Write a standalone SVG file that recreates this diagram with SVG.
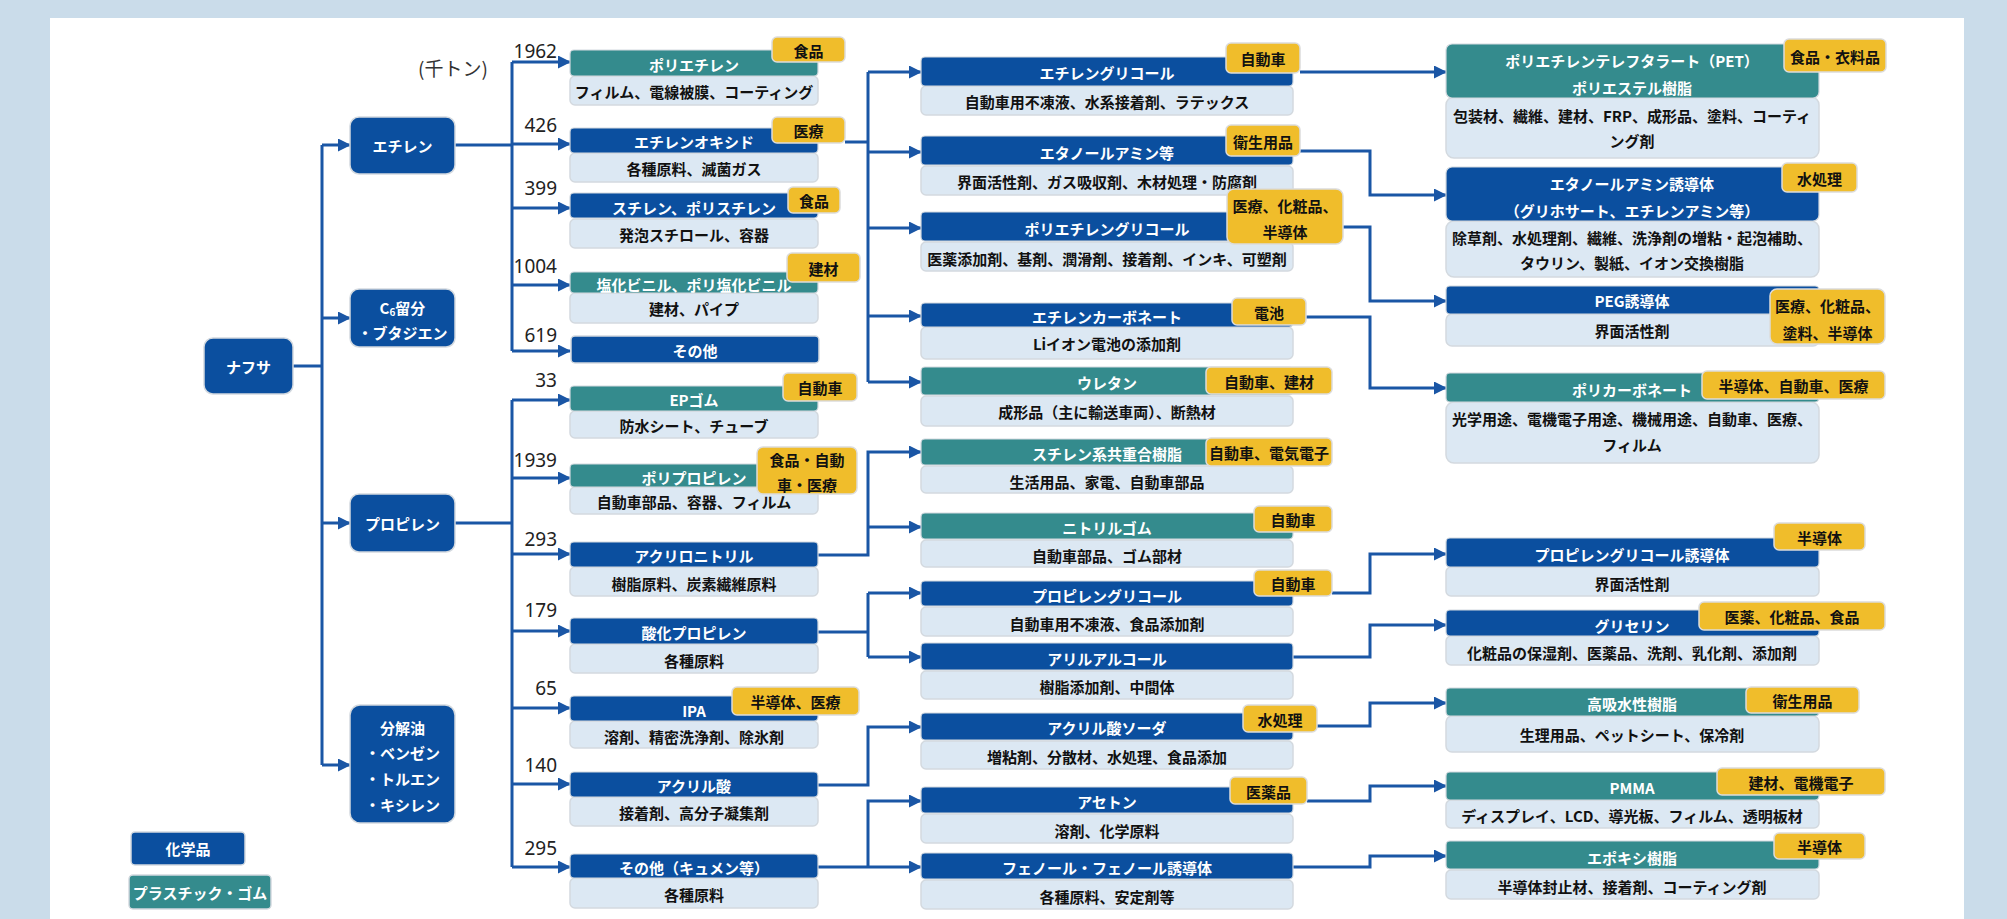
<svg xmlns="http://www.w3.org/2000/svg" width="2007" height="919" viewBox="0 0 2007 919">
<defs>
<style>
text{font-family:"Noto Sans CJK JP","Noto Sans",sans-serif;font-weight:700;font-size:15px;text-anchor:middle;dominant-baseline:central}
.w{fill:#ffffff}
.k{fill:#111111}
.num{font-family:"Noto Sans","Liberation Sans",sans-serif;font-weight:400;font-size:19px;fill:#222222;text-anchor:end;dominant-baseline:auto}
.unit{font-weight:400;font-size:19px;fill:#333333;text-anchor:start;dominant-baseline:auto}
.nb{fill:#0b4f9f;stroke:#d3d9df;stroke-width:1.5}
.hb{fill:#0b4f9f;stroke:#d3d9df;stroke-width:1.2}
.ht{fill:#348b8d;stroke:#d3d9df;stroke-width:1.2}
.bd{fill:#dce8f3;stroke:#d3d9df;stroke-width:1.5}
.tag{fill:#f0bd2b;stroke:#dcdcdc;stroke-width:1.5}
.c{fill:none;stroke:#1a56a5;stroke-width:3}
.a{marker-end:url(#ah)}
</style>
<marker id="ah" markerUnits="userSpaceOnUse" markerWidth="13" markerHeight="13" refX="12" refY="6.5" orient="auto">
<path d="M0,0 L13,6.5 L0,13 z" fill="#1a56a5"/>
</marker>
</defs>
<rect x="0" y="0" width="2007" height="919" fill="#cadcea"/>
<rect x="50" y="18" width="1914" height="901" fill="#ffffff"/>
<text class="unit" x="418" y="76">(千トン)</text>

<g id="connectors">
<path class="c" d="M293,366 H322 M322,145 V765"/>
<path class="c a" d="M322,145 H350"/>
<path class="c a" d="M322,318 H350"/>
<path class="c a" d="M322,523 H350"/>
<path class="c a" d="M322,765 H350"/>
<path class="c" d="M455,145 H512 M512,62 V351"/>
<path class="c a" d="M512,62 H570"/>
<path class="c a" d="M512,144 H570"/>
<path class="c a" d="M512,208 H570"/>
<path class="c a" d="M512,285 H570"/>
<path class="c a" d="M512,351 H570"/>
<path class="c" d="M455,523 H512 M512,400 V867"/>
<path class="c a" d="M512,400 H570"/>
<path class="c a" d="M512,478 H570"/>
<path class="c a" d="M512,554 H570"/>
<path class="c a" d="M512,631 H570"/>
<path class="c a" d="M512,708 H570"/>
<path class="c a" d="M512,784 H570"/>
<path class="c a" d="M512,867 H570"/>
<path class="c" d="M845,142 H868 M868,72 V382"/>
<path class="c a" d="M868,72 H921"/>
<path class="c a" d="M868,152 H921"/>
<path class="c a" d="M868,228 H921"/>
<path class="c a" d="M868,316 H921"/>
<path class="c a" d="M868,382 H921"/>
<path class="c a" d="M818,555 H868 V452 H921"/>
<path class="c a" d="M868,527 H921"/>
<path class="c" d="M818,632 H868 M868,593 V657"/>
<path class="c a" d="M868,593 H921"/>
<path class="c a" d="M868,657 H921"/>
<path class="c a" d="M818,785 H868 V727 H921"/>
<path class="c a" d="M818,867 H921"/>
<path class="c a" d="M868,867 V801 H921"/>
<path class="c a" d="M1300,72 H1446"/>
<path class="c a" d="M1300,151 H1370 V195 H1446"/>
<path class="c a" d="M1343,227 H1370 V301 H1446"/>
<path class="c a" d="M1306,317 H1370 V388 H1446"/>
<path class="c a" d="M1332,593 H1370 V554 H1446"/>
<path class="c a" d="M1293,657 H1370 V625 H1446"/>
<path class="c a" d="M1317,726 H1370 V703 H1446"/>
<path class="c a" d="M1307,801 H1370 V786 H1446"/>
<path class="c a" d="M1293,867 H1370 V856 H1446"/>
</g>

<g id="numbers">
<text class="num" x="557" y="58">1962</text>
<text class="num" x="557" y="132">426</text>
<text class="num" x="557" y="195">399</text>
<text class="num" x="557" y="273">1004</text>
<text class="num" x="557" y="342">619</text>
<text class="num" x="557" y="387">33</text>
<text class="num" x="557" y="467">1939</text>
<text class="num" x="557" y="546">293</text>
<text class="num" x="557" y="617">179</text>
<text class="num" x="557" y="695">65</text>
<text class="num" x="557" y="772">140</text>
<text class="num" x="557" y="855">295</text>
</g>

<g id="n-naphtha"><rect class="nb" x="204" y="338" width="89" height="56" rx="9"/><text class="w" x="248.5" y="366">ナフサ</text></g>
<g id="n-ethylene"><rect class="nb" x="350" y="117" width="105" height="57" rx="9"/><text class="w" x="402.5" y="145">エチレン</text></g>
<g id="n-c6"><rect class="nb" x="350" y="289" width="105" height="58" rx="9"/><text class="w" x="402.5" y="307">C<tspan font-size="10" dy="4">6</tspan><tspan dy="-4">留分</tspan></text><text class="w" x="402.5" y="332">・ブタジエン</text></g>
<g id="n-propylene"><rect class="nb" x="350" y="494" width="105" height="58" rx="9"/><text class="w" x="402.5" y="523">プロピレン</text></g>
<g id="n-cracked"><rect class="nb" x="350" y="705" width="105" height="118" rx="10"/><text class="w" x="402.5" y="727">分解油</text><text class="w" x="402.5" y="752">・ベンゼン</text><text class="w" x="402.5" y="778">・トルエン</text><text class="w" x="402.5" y="804">・キシレン</text></g>

<g id="n-pe"><rect class="bd" x="570" y="76" width="248" height="29" rx="5"/><rect class="ht" x="570" y="50" width="248" height="26" rx="4"/><text class="w" x="694" y="64">ポリエチレン</text><text class="k" x="694" y="91">フィルム、電線被膜、コーティング</text><rect class="tag" x="772" y="37" width="73" height="25" rx="5"/><text class="k" x="808.5" y="50">食品</text></g>
<g id="n-eo"><rect class="bd" x="570" y="153" width="248" height="29" rx="5"/><rect class="hb" x="570" y="128" width="248" height="25" rx="4"/><text class="w" x="694" y="141">エチレンオキシド</text><text class="k" x="694" y="168">各種原料、滅菌ガス</text><rect class="tag" x="772" y="117" width="73" height="26" rx="5"/><text class="k" x="808.5" y="130">医療</text></g>
<g id="n-ps"><rect class="bd" x="570" y="219" width="248" height="29" rx="5"/><rect class="hb" x="570" y="193" width="248" height="25" rx="4"/><text class="w" x="694" y="207">スチレン、ポリスチレン</text><text class="k" x="694" y="234">発泡スチロール、容器</text><rect class="tag" x="788" y="187" width="52" height="26" rx="5"/><text class="k" x="814" y="200">食品</text></g>
<g id="n-pvc"><rect class="bd" x="570" y="293" width="248" height="30" rx="5"/><rect class="ht" x="570" y="272" width="248" height="21" rx="4"/><text class="w" x="694" y="284">塩化ビニル、ポリ塩化ビニル</text><text class="k" x="694" y="308">建材、パイプ</text><rect class="tag" x="787" y="253" width="73" height="29" rx="5"/><text class="k" x="823.5" y="268">建材</text></g>
<g id="n-other1"><rect class="nb" x="571" y="336" width="248" height="27" rx="4"/><text class="w" x="695" y="350">その他</text></g>
<g id="n-ep"><rect class="bd" x="570" y="411" width="248" height="27" rx="5"/><rect class="ht" x="570" y="386" width="248" height="25" rx="4"/><text class="w" x="694" y="399">EPゴム</text><text class="k" x="694" y="425">防水シート、チューブ</text><rect class="tag" x="783" y="373" width="74" height="28" rx="5"/><text class="k" x="820" y="387">自動車</text></g>
<g id="n-pp"><rect class="bd" x="570" y="487" width="248" height="27" rx="5"/><rect class="ht" x="570" y="464" width="248" height="23" rx="4"/><text class="w" x="694" y="477">ポリプロピレン</text><text class="k" x="694" y="501">自動車部品、容器、フィルム</text><rect class="tag" x="757" y="447" width="100" height="47" rx="6"/><text class="k" x="807" y="459">食品・自動</text><text class="k" x="807" y="484">車・医療</text></g>
<g id="n-an"><rect class="bd" x="570" y="567" width="248" height="29" rx="5"/><rect class="hb" x="570" y="542" width="248" height="25" rx="4"/><text class="w" x="694" y="555">アクリロニトリル</text><text class="k" x="694" y="583">樹脂原料、炭素繊維原料</text></g>
<g id="n-po"><rect class="bd" x="570" y="644" width="248" height="29" rx="5"/><rect class="hb" x="570" y="618" width="248" height="26" rx="4"/><text class="w" x="694" y="632">酸化プロピレン</text><text class="k" x="694" y="660">各種原料</text></g>
<g id="n-ipa"><rect class="bd" x="570" y="721" width="248" height="27" rx="5"/><rect class="hb" x="570" y="696" width="248" height="25" rx="4"/><text class="w" x="694" y="710">IPA</text><text class="k" x="694" y="736">溶剤、精密洗浄剤、除氷剤</text><rect class="tag" x="732" y="687" width="127" height="28" rx="5"/><text class="k" x="795.5" y="701">半導体、医療</text></g>
<g id="n-aa"><rect class="bd" x="570" y="797" width="248" height="29" rx="5"/><rect class="hb" x="570" y="772" width="248" height="25" rx="4"/><text class="w" x="694" y="785">アクリル酸</text><text class="k" x="694" y="812">接着剤、高分子凝集剤</text></g>
<g id="n-other2"><rect class="bd" x="570" y="878" width="248" height="30" rx="5"/><rect class="hb" x="570" y="854" width="248" height="24" rx="4"/><text class="w" x="694" y="867">その他（キュメン等）</text><text class="k" x="694" y="894">各種原料</text></g>

<g id="n-eg"><rect class="bd" x="921" y="86" width="372" height="29" rx="5"/><rect class="hb" x="921" y="57" width="372" height="29" rx="4"/><text class="w" x="1107" y="72">エチレングリコール</text><text class="k" x="1107" y="101">自動車用不凍液、水系接着剤、ラテックス</text><rect class="tag" x="1226" y="43" width="74" height="30" rx="5"/><text class="k" x="1263" y="58">自動車</text></g>
<g id="n-eta"><rect class="bd" x="921" y="166" width="372" height="29" rx="5"/><rect class="hb" x="921" y="136" width="372" height="29" rx="4"/><text class="w" x="1107" y="152">エタノールアミン等</text><text class="k" x="1107" y="181">界面活性剤、ガス吸収剤、木材処理・防腐剤</text><rect class="tag" x="1226" y="125" width="74" height="31" rx="5"/><text class="k" x="1263" y="141">衛生用品</text></g>
<g id="n-peg"><rect class="bd" x="921" y="242" width="372" height="29" rx="5"/><rect class="hb" x="921" y="212" width="372" height="29" rx="4"/><text class="w" x="1107" y="228">ポリエチレングリコール</text><text class="k" x="1107" y="258">医薬添加剤、基剤、潤滑剤、接着剤、インキ、可塑剤</text><rect class="tag" x="1227" y="189" width="116" height="55" rx="7"/><text class="k" x="1285" y="205">医療、化粧品、</text><text class="k" x="1285" y="231">半導体</text></g>
<g id="n-ec"><rect class="bd" x="921" y="327" width="372" height="32" rx="5"/><rect class="hb" x="921" y="303" width="372" height="24" rx="4"/><text class="w" x="1107" y="316">エチレンカーボネート</text><text class="k" x="1107" y="343">Liイオン電池の添加剤</text><rect class="tag" x="1232" y="298" width="74" height="27" rx="5"/><text class="k" x="1269" y="312">電池</text></g>
<g id="n-ur"><rect class="bd" x="921" y="396" width="372" height="30" rx="5"/><rect class="ht" x="921" y="367" width="372" height="28" rx="4"/><text class="w" x="1107" y="382">ウレタン</text><text class="k" x="1107" y="411">成形品（主に輸送車両）、断熱材</text><rect class="tag" x="1206" y="367" width="126" height="27" rx="5"/><text class="k" x="1269" y="381">自動車、建材</text></g>
<g id="n-sc"><rect class="bd" x="921" y="466" width="372" height="27" rx="5"/><rect class="ht" x="921" y="439" width="372" height="26" rx="4"/><text class="w" x="1107" y="453">スチレン系共重合樹脂</text><text class="k" x="1107" y="481">生活用品、家電、自動車部品</text><rect class="tag" x="1206" y="438" width="126" height="28" rx="5"/><text class="k" x="1269" y="452">自動車、電気電子</text></g>
<g id="n-nbr"><rect class="bd" x="921" y="540" width="372" height="27" rx="5"/><rect class="ht" x="921" y="513" width="372" height="26" rx="4"/><text class="w" x="1107" y="527">ニトリルゴム</text><text class="k" x="1107" y="555">自動車部品、ゴム部材</text><rect class="tag" x="1254" y="506" width="78" height="26" rx="5"/><text class="k" x="1293" y="519">自動車</text></g>
<g id="n-pg"><rect class="bd" x="921" y="607" width="372" height="29" rx="5"/><rect class="hb" x="921" y="581" width="372" height="25" rx="4"/><text class="w" x="1107" y="595">プロピレングリコール</text><text class="k" x="1107" y="623">自動車用不凍液、食品添加剤</text><rect class="tag" x="1254" y="570" width="78" height="26" rx="5"/><text class="k" x="1293" y="583">自動車</text></g>
<g id="n-allyl"><rect class="bd" x="921" y="671" width="372" height="28" rx="5"/><rect class="hb" x="921" y="643" width="372" height="27" rx="4"/><text class="w" x="1107" y="658">アリルアルコール</text><text class="k" x="1107" y="686">樹脂添加剤、中間体</text></g>
<g id="n-sa"><rect class="bd" x="921" y="741" width="372" height="28" rx="5"/><rect class="hb" x="921" y="713" width="372" height="27" rx="4"/><text class="w" x="1107" y="727">アクリル酸ソーダ</text><text class="k" x="1107" y="756">増粘剤、分散材、水処理、食品添加</text><rect class="tag" x="1243" y="705" width="74" height="27" rx="5"/><text class="k" x="1280" y="719">水処理</text></g>
<g id="n-acetone"><rect class="bd" x="921" y="814" width="372" height="29" rx="5"/><rect class="hb" x="921" y="787" width="372" height="26" rx="4"/><text class="w" x="1107" y="801">アセトン</text><text class="k" x="1107" y="830">溶剤、化学原料</text><rect class="tag" x="1230" y="777" width="77" height="27" rx="5"/><text class="k" x="1268.5" y="791">医薬品</text></g>
<g id="n-phenol"><rect class="bd" x="921" y="880" width="372" height="29" rx="5"/><rect class="hb" x="921" y="853" width="372" height="26" rx="4"/><text class="w" x="1107" y="867">フェノール・フェノール誘導体</text><text class="k" x="1107" y="896">各種原料、安定剤等</text></g>

<g id="n-pet"><rect class="bd" x="1446" y="97" width="373" height="61" rx="8"/><rect class="ht" x="1446" y="44" width="373" height="54" rx="6"/><text class="w" x="1632" y="60">ポリエチレンテレフタラート（PET）</text><text class="w" x="1632" y="87">ポリエステル樹脂</text><text class="k" x="1632" y="115">包装材、繊維、建材、FRP、成形品、塗料、コーティ</text><text class="k" x="1632" y="140">ング剤</text><rect class="tag" x="1784" y="39" width="102" height="33" rx="5"/><text class="k" x="1835" y="56">食品・衣料品</text></g>
<g id="n-etad"><rect class="bd" x="1446" y="221" width="373" height="56" rx="8"/><rect class="hb" x="1446" y="167" width="373" height="54" rx="6"/><text class="w" x="1632" y="183">エタノールアミン誘導体</text><text class="w" x="1632" y="210">（グリホサート、エチレンアミン等）</text><text class="k" x="1632" y="237">除草剤、水処理剤、繊維、洗浄剤の増粘・起泡補助、</text><text class="k" x="1632" y="262">タウリン、製紙、イオン交換樹脂</text><rect class="tag" x="1782" y="163" width="75" height="29" rx="5"/><text class="k" x="1819.5" y="178">水処理</text></g>
<g id="n-pegd"><rect class="bd" x="1446" y="314" width="373" height="32" rx="6"/><rect class="hb" x="1446" y="286" width="373" height="28" rx="4"/><text class="w" x="1632" y="300">PEG誘導体</text><text class="k" x="1632" y="330">界面活性剤</text><rect class="tag" x="1770" y="289" width="115" height="55" rx="7"/><text class="k" x="1827.5" y="305">医療、化粧品、</text><text class="k" x="1827.5" y="332">塗料、半導体</text></g>
<g id="n-pc"><rect class="bd" x="1446" y="402" width="373" height="61" rx="8"/><rect class="ht" x="1446" y="373" width="373" height="29" rx="4"/><text class="w" x="1632" y="389">ポリカーボネート</text><text class="k" x="1632" y="418">光学用途、電機電子用途、機械用途、自動車、医療、</text><text class="k" x="1632" y="444">フィルム</text><rect class="tag" x="1702" y="371" width="183" height="28" rx="5"/><text class="k" x="1793.5" y="385">半導体、自動車、医療</text></g>
<g id="n-pgd"><rect class="bd" x="1446" y="567" width="373" height="29" rx="5"/><rect class="hb" x="1446" y="538" width="373" height="29" rx="4"/><text class="w" x="1632" y="554">プロピレングリコール誘導体</text><text class="k" x="1632" y="583">界面活性剤</text><rect class="tag" x="1774" y="523" width="91" height="27" rx="5"/><text class="k" x="1819.5" y="537">半導体</text></g>
<g id="n-gly"><rect class="bd" x="1446" y="636" width="373" height="29" rx="5"/><rect class="hb" x="1446" y="610" width="373" height="26" rx="4"/><text class="w" x="1632" y="625">グリセリン</text><text class="k" x="1632" y="652">化粧品の保湿剤、医薬品、洗剤、乳化剤、添加剤</text><rect class="tag" x="1699" y="602" width="186" height="28" rx="5"/><text class="k" x="1792" y="616">医薬、化粧品、食品</text></g>
<g id="n-sap"><rect class="bd" x="1446" y="716" width="373" height="36" rx="6"/><rect class="ht" x="1446" y="688" width="373" height="28" rx="4"/><text class="w" x="1632" y="703">高吸水性樹脂</text><text class="k" x="1632" y="734">生理用品、ペットシート、保冷剤</text><rect class="tag" x="1746" y="687" width="113" height="26" rx="5"/><text class="k" x="1802.5" y="700">衛生用品</text></g>
<g id="n-pmma"><rect class="bd" x="1446" y="800" width="373" height="28" rx="5"/><rect class="ht" x="1446" y="772" width="373" height="28" rx="4"/><text class="w" x="1632" y="787">PMMA</text><text class="k" x="1632" y="815">ディスプレイ、LCD、導光板、フィルム、透明板材</text><rect class="tag" x="1717" y="768" width="168" height="27" rx="5"/><text class="k" x="1801" y="782">建材、電機電子</text></g>
<g id="n-epoxy"><rect class="bd" x="1446" y="870" width="373" height="29" rx="5"/><rect class="ht" x="1446" y="841" width="373" height="28" rx="4"/><text class="w" x="1632" y="857">エポキシ樹脂</text><text class="k" x="1632" y="886">半導体封止材、接着剤、コーティング剤</text><rect class="tag" x="1774" y="833" width="91" height="26" rx="5"/><text class="k" x="1819.5" y="846">半導体</text></g>

<g id="legend">
<rect class="nb" x="131" y="832" width="114" height="33" rx="4"/><text class="w" x="188" y="848">化学品</text>
<rect x="129" y="875" width="142" height="34" rx="4" fill="#348b8d" stroke="#d3d9df" stroke-width="1.5"/><text class="w" x="200" y="892" font-size="14.5">プラスチック・ゴム</text>
</g>
</svg>
